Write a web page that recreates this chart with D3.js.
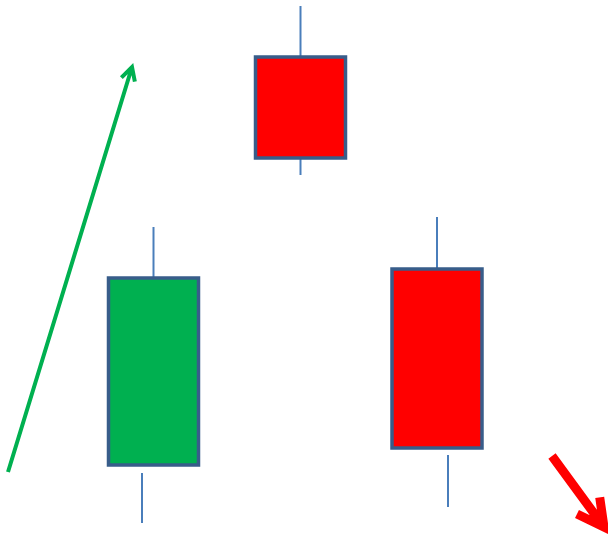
<!DOCTYPE html>
<html>
<head>
<meta charset="utf-8">
<script src="https://cdn.jsdelivr.net/npm/d3@7"></script>
<style>
  body { margin: 0; background: #fff; }
</style>
</head>
<body>
<div id="chart"></div>
<script>
// candle data (price units, higher = up)
var days      = ["d1", "d2", "d3"];
var dayPos    = [153.5, 300.5, 437];   // time position of each candle
var lowPos    = [142, 300.5, 448];     // time position of lower wick (as drawn)
var opens     = [70, 478, 266];
var closes    = [257, 377, 87];
var highs     = [308, 529, 318];
var lows      = [12, 360, 28];
var lowTops   = [62, 376, 80];         // where the lower wick starts

// trend arrows: [x0, price0, x1, price1]
var trendUp   = [8, 63, 132, 468];
var trendDown = [552, 79, 604, 8];

var w = 608, h = 535;

var svg = d3.select("#chart").append("svg")
  .attr("width", w).attr("height", h);

var x = d3.scaleLinear().domain([0, 608]).range([0, w]);
var y = d3.scaleLinear().domain([0, 535]).range([h, 0]);

var candles = days.map(function(d, i){
  return {day: d, t: dayPos[i], tl: lowPos[i], o: opens[i], c: closes[i],
          hi: highs[i], lo: lows[i], lt: lowTops[i]};
});

var bodyW = 90;

// upper wicks
svg.selectAll("line.upper").data(candles).enter().append("line")
  .attr("class", "upper")
  .attr("x1", function(d){ return x(d.t); })
  .attr("x2", function(d){ return x(d.t); })
  .attr("y1", function(d){ return y(d.hi); })
  .attr("y2", function(d){ return y(Math.max(d.o, d.c)); })
  .attr("stroke", "#4a7ebb").attr("stroke-width", 2);

// lower wicks
svg.selectAll("line.lower").data(candles).enter().append("line")
  .attr("class", "lower")
  .attr("x1", function(d){ return x(d.tl); })
  .attr("x2", function(d){ return x(d.tl); })
  .attr("y1", function(d){ return y(d.lo); })
  .attr("y2", function(d){ return y(d.lt); })
  .attr("stroke", "#4a7ebb").attr("stroke-width", 2);

// bodies
svg.selectAll("rect.body").data(candles).enter().append("rect")
  .attr("class", "body")
  .attr("x", function(d){ return x(d.t) - bodyW / 2; })
  .attr("width", bodyW)
  .attr("y", function(d){ return y(Math.max(d.o, d.c)); })
  .attr("height", function(d){ return Math.abs(y(d.o) - y(d.c)); })
  .attr("fill", function(d){ return d.c > d.o ? "#00b050" : "#ff0000"; })
  .attr("stroke", "#385d8a").attr("stroke-width", 3.5);

// arrows with open V heads
function arrow(p, color, width, headLen){
  var x0 = x(p[0]), y0 = y(p[1]), x1 = x(p[2]), y1 = y(p[3]);
  var ang = Math.atan2(y0 - y1, x0 - x1);
  var a = 28 * Math.PI / 180;
  var ax1 = x1 + headLen * Math.cos(ang + a), ay1 = y1 + headLen * Math.sin(ang + a);
  var ax2 = x1 + headLen * Math.cos(ang - a), ay2 = y1 + headLen * Math.sin(ang - a);
  var path = d3.path();
  path.moveTo(x0, y0); path.lineTo(x1, y1);
  path.moveTo(ax1, ay1); path.lineTo(x1, y1); path.lineTo(ax2, ay2);
  svg.append("path")
    .attr("d", path.toString())
    .attr("fill", "none")
    .attr("stroke", color)
    .attr("stroke-width", width)
    .attr("stroke-linejoin", "miter")
    .attr("stroke-miterlimit", 10);
}

arrow(trendUp, "#00b050", 4, 15);
arrow(trendDown, "#ff0000", 9, 30);
</script>
</body>
</html>
